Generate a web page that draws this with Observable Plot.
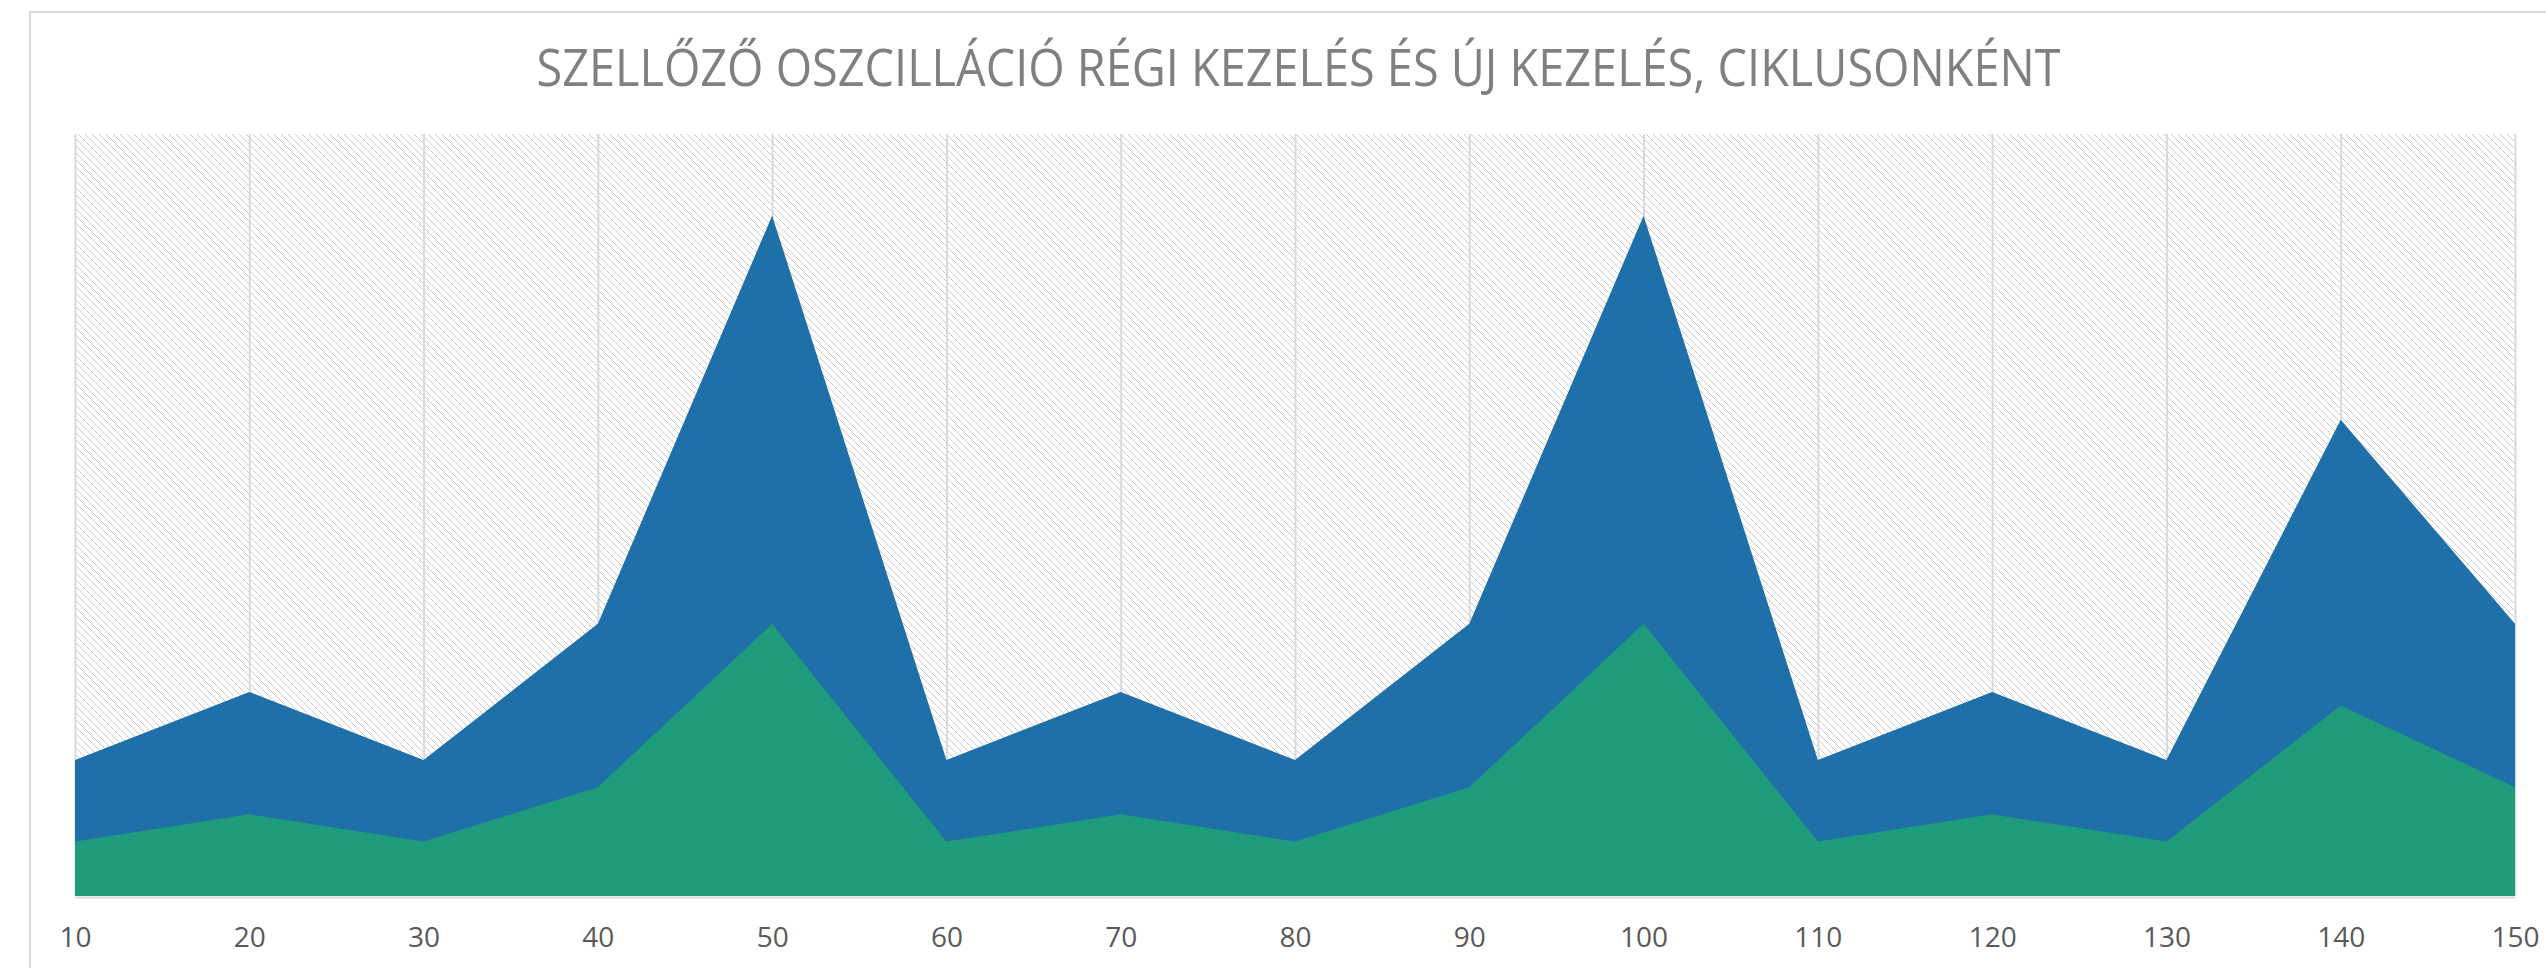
<!DOCTYPE html>
<html>
<head>
<meta charset="utf-8">
<script src="https://cdn.jsdelivr.net/npm/d3@7"></script>
<script src="https://cdn.jsdelivr.net/npm/@observablehq/plot@0.6"></script>
<style>
  html, body { margin: 0; padding: 0; background: #ffffff; overflow: hidden; }
  #wrap { position: relative; width: 2546px; height: 968px; }
  #border { position: absolute; left: 29px; top: 11px; width: 2700px; height: 1100px;
            border-left: 2px solid #d9d9d9; border-top: 2px solid #d9d9d9; }
  #chart { position: absolute; left: 0; top: 0; }
</style>
</head>
<body>
<div id="wrap"><div id="border"></div><div id="chart"></div></div>
<script>
// Cycles (x axis tick values)
const cycles = [10, 20, 30, 40, 50, 60, 70, 80, 90, 100, 110, 120, 130, 140, 150];
// Régi kezelés (old treatment) – blue
const oldTreatment = [5, 7.5, 5, 10, 25, 5, 7.5, 5, 10, 25, 5, 7.5, 5, 17.5, 10];
// Új kezelés (new treatment) – green
const newTreatment = [2, 3, 2, 4, 10, 2, 3, 2, 4, 10, 2, 3, 2, 7, 4];
// Axis maximum (hatched background fills up to it)
const yMax = 28;
const title = "SZELLŐZŐ OSZCILLÁCIÓ RÉGI KEZELÉS ÉS ÚJ KEZELÉS, CIKLUSONKÉNT";

const blue = "#1f6fa8";
const green = "#1e9b7a";

const rows = cycles.map((c, i) => ({cycle: c, old: oldTreatment[i], neu: newTreatment[i], top: yMax}));

const chart = Plot.plot({
  width: 2546,
  height: 968,
  marginTop: 134,
  marginBottom: 72,
  marginLeft: 75,
  marginRight: 31,
  style: {fontFamily: "'Open Sans', sans-serif", color: "#595959", background: "transparent", overflow: "visible"},
  x: {domain: [10, 150], ticks: cycles, tickFormat: d => String(d), label: null},
  y: {domain: [0, yMax], axis: null},
  marks: [
    Plot.areaY(rows, {x: "cycle", y: "top", fill: "url(#hatch)"}),
    Plot.ruleX(cycles, {stroke: "#d9d9d9", strokeWidth: 2}),
    Plot.areaY(rows, {x: "cycle", y: "old", fill: blue}),
    Plot.areaY(rows, {x: "cycle", y: "neu", fill: green}),
    Plot.ruleY([0], {stroke: "#d9d9d9", strokeWidth: 2, dy: 1}),
    Plot.axisX({ticks: cycles, tickSize: 0, tickPadding: 31, fontSize: 28, fill: "#595959", label: null, tickFormat: d => String(d)}),
    Plot.text([title], {frameAnchor: "top", lineAnchor: "bottom", dy: -49, dx: 3, fontSize: 52, fill: "#808080"})
  ]
});

// hatch pattern definition (light downward diagonal)
const ns = "http://www.w3.org/2000/svg";
const P = 7;
const defs = document.createElementNS(ns, "defs");
const pat = document.createElementNS(ns, "pattern");
pat.setAttribute("id", "hatch");
pat.setAttribute("patternUnits", "userSpaceOnUse");
pat.setAttribute("width", P);
pat.setAttribute("height", P);
const bg = document.createElementNS(ns, "rect");
bg.setAttribute("width", P); bg.setAttribute("height", P); bg.setAttribute("fill", "#ffffff");
pat.appendChild(bg);
for (let k = 0; k < P; k++) {
  const r = document.createElementNS(ns, "rect");
  r.setAttribute("x", k); r.setAttribute("y", k);
  r.setAttribute("width", 1); r.setAttribute("height", 1);
  r.setAttribute("fill", "#c9c9c9");
  r.setAttribute("shape-rendering", "crispEdges");
  pat.appendChild(r);
}
defs.appendChild(pat);
chart.insertBefore(defs, chart.firstChild);

// fit title width
chart.querySelectorAll("text").forEach(t => {
  if (t.textContent === title) {
    t.setAttribute("textLength", "1524");
    t.setAttribute("lengthAdjust", "spacingAndGlyphs");
  }
});

document.getElementById("chart").appendChild(chart);
</script>
</body>
</html>
